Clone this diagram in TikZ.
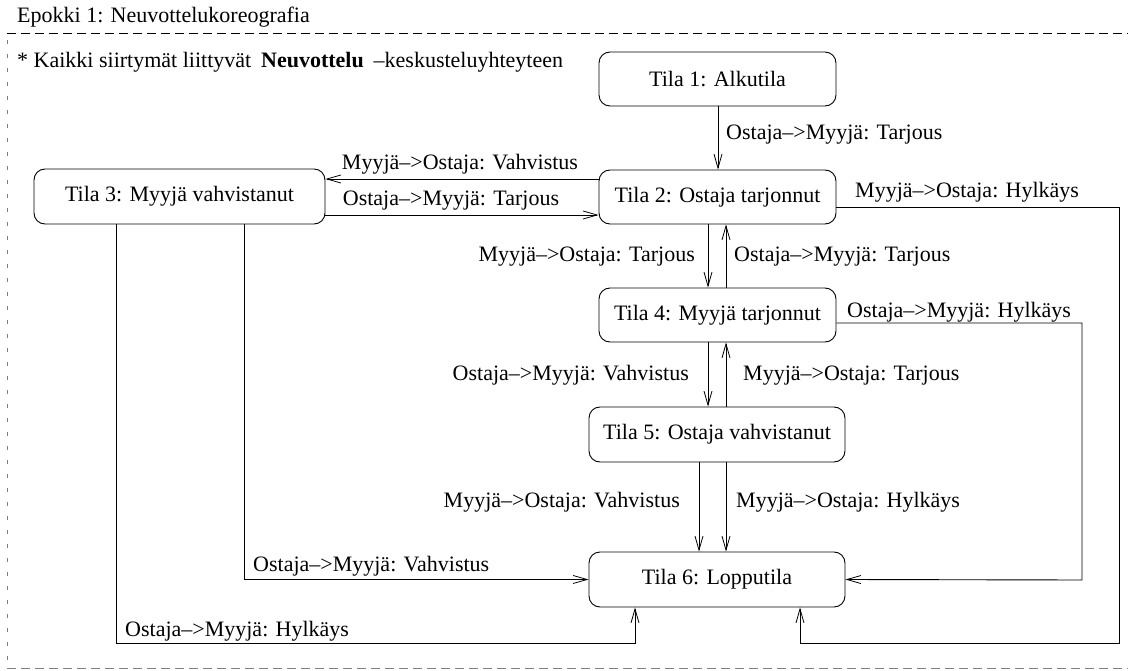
\documentclass[tikz,border=0pt]{standalone}
\usepackage{fontspec}
\setmainfont{Liberation Serif}
\usetikzlibrary{arrows.meta}
\begin{document}
\begin{tikzpicture}[x=1pt,y=-1pt,
  font=\fontsize{22}{26}\selectfont,
  state/.style={draw, rounded corners=11pt, line width=0.9pt, minimum height=54pt, inner sep=0pt},
  conn/.style={line width=0.9pt, -{Straight Barb[length=14pt,width=8pt,line width=0.8pt]}},
  lbl/.style={inner sep=0pt},
  frameh/.style={line width=0.9pt, dash pattern=on 9pt off 5pt},
  framev/.style={line width=0.9pt, dash pattern=on 4pt off 10pt, dash phase=-7pt}]
\useasboundingbox (0,0) rectangle (1128,671);

% dashed frame of the epoch
\draw[frameh] (7,33) -- (1128,33);
\draw[framev, gray] (7,33) -- (7,668);
\draw[frameh, gray] (7,668) -- (1128,668);

\node[lbl, anchor=base west] (title) at (17,23) {Epokki 1: Neuvottelukoreografia};
\node[lbl, anchor=base west] (note) at (17,68)
  {* Kaikki siirtymät liittyvät\hspace{0.45em}\textbf{Neuvottelu}\hspace{0.45em}\textendash keskusteluyhteyteen};

% states
\node[state, minimum width=237pt] (t1) at (717.5,79)  {Tila 1: Alkutila};
\node[state, minimum width=237pt] (t2) at (717.5,197) {Tila 2: Ostaja tarjonnut};
\node[state, minimum width=291pt, minimum height=55pt] (t3) at (179.5,196.5) {Tila 3: Myyjä vahvistanut};
\node[state, minimum width=237pt] (t4) at (717.5,315) {Tila 4: Myyjä tarjonnut};
\node[state, minimum width=256pt, minimum height=55pt] (t5) at (717,434.5) {Tila 5: Ostaja vahvistanut};
\node[state, minimum width=256pt, minimum height=55pt] (t6) at (717,579.5) {Tila 6: Lopputila};

% transitions
\draw[conn] (t1.south -| 718,0) -- (t2.north -| 718,0);
\draw[conn] (t2.west |- 0,179) -- (t3.east |- 0,179);
\draw[conn] (t3.east |- 0,215) -- (t2.west |- 0,215);
\draw[conn] (t2.south -| 708,0) -- (t4.north -| 708,0);
\draw[conn] (t4.north -| 726,0) -- (t2.south -| 726,0);
\draw[conn] (t4.south -| 708,0) -- (t5.north -| 708,0);
\draw[conn] (t5.north -| 726,0) -- (t4.south -| 726,0);
\draw[conn] (t5.south -| 699,0) -- (t6.north -| 699,0);
\draw[conn] (t5.south -| 726,0) -- (t6.north -| 726,0);
\draw[conn] (t3.south -| 244,0) |- (t6.west);
\draw[conn] (t3.south -| 116,0) -- (116,643) -| (t6.south -| 635,0);
\draw[conn] (t2.east |- 0,207) -| (1119,643) -| (t6.south -| 800,0);
\draw[conn] (t4.east |- 0,323) -| (1082,580) -- (t6.east);

% transition labels
\node[lbl, anchor=base west] (l12) at (726,140) {Ostaja\textendash>Myyjä: Tarjous};
\node[lbl, anchor=base] (l23) at (460,170) {Myyjä\textendash>Ostaja: Vahvistus};
\node[lbl, anchor=base] (l32) at (451,206) {Ostaja\textendash>Myyjä: Tarjous};
\node[lbl, anchor=base west] (l26) at (855,198) {Myyjä\textendash>Ostaja: Hylkäys};
\node[lbl, anchor=base east] (l24) at (695,262) {Myyjä\textendash>Ostaja: Tarjous};
\node[lbl, anchor=base west] (l42) at (734,262) {Ostaja\textendash>Myyjä: Tarjous};
\node[lbl, anchor=base west] (l46) at (847,317) {Ostaja\textendash>Myyjä: Hylkäys};
\node[lbl, anchor=base east] (l45) at (689,380) {Ostaja\textendash>Myyjä: Vahvistus};
\node[lbl, anchor=base west] (l54) at (743,380) {Myyjä\textendash>Ostaja: Tarjous};
\node[lbl, anchor=base east] (l56a) at (680,507) {Myyjä\textendash>Ostaja: Vahvistus};
\node[lbl, anchor=base west] (l56b) at (736,507) {Myyjä\textendash>Ostaja: Hylkäys};
\node[lbl, anchor=base west] (l36a) at (253,571) {Ostaja\textendash>Myyjä: Vahvistus};
\node[lbl, anchor=base west] (l36b) at (125,636) {Ostaja\textendash>Myyjä: Hylkäys};
\end{tikzpicture}
\end{document}
